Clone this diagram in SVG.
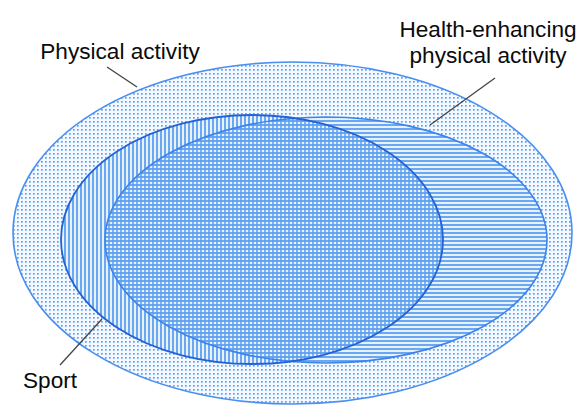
<svg xmlns="http://www.w3.org/2000/svg" width="583" height="408" viewBox="0 0 583 408">
<style>
.lbl{font-family:"Liberation Sans",Arial,sans-serif;font-size:22.6px;fill:#0a0a0a}
.lead{stroke:#444;stroke-width:1.3;fill:none}
</style>
<defs>
<pattern id="dots" width="4" height="4" patternUnits="userSpaceOnUse">
<rect width="4" height="4" fill="#f4f8ff"/>
<rect x="1" y="1" width="1.7" height="1.7" fill="#5c9ff4"/>
</pattern>
<pattern id="vert" width="4" height="4" patternUnits="userSpaceOnUse">
<rect width="4" height="4" fill="#e8f2fe"/>
<rect x="0" y="0" width="2" height="4" fill="#6aa8f2"/>
</pattern>
<pattern id="horz" width="4" height="4" patternUnits="userSpaceOnUse">
<rect width="4" height="4" fill="#e8f2fe"/>
<rect x="0" y="0" width="4" height="2" fill="#6aa8f2"/>
</pattern>
<pattern id="vertT" width="4" height="4" patternUnits="userSpaceOnUse">
<rect x="0" y="0" width="2" height="4" fill="#5b9ef0" fill-opacity="0.75"/>
</pattern>
<clipPath id="hepaClip"><ellipse cx="326" cy="240" rx="221" ry="123"/></clipPath>
</defs>
<g id="physical-activity">
<ellipse cx="292.5" cy="233" rx="279.5" ry="171" fill="url(#dots)" stroke="#4a8ff0" stroke-width="1.6"/>
</g>
<g id="sport">
<ellipse cx="252" cy="239.5" rx="191" ry="124.5" fill="url(#vert)"/>
</g>
<g id="hepa">
<ellipse cx="326" cy="240" rx="221" ry="123" fill="url(#horz)"/>
<ellipse cx="252" cy="239.5" rx="191" ry="124.5" fill="url(#vertT)" clip-path="url(#hepaClip)"/>
<ellipse cx="326" cy="240" rx="221" ry="123" fill="none" stroke="#3c84ec" stroke-width="1.6"/>
</g>
<g id="sport-outline">
<ellipse cx="252" cy="239.5" rx="191" ry="124.5" fill="none" stroke="#2462d2" stroke-width="1.8"/>
</g>
<g id="connectors">
<line class="lead" x1="107" y1="67" x2="137" y2="87"/>
<line class="lead" x1="495" y1="78" x2="430" y2="125"/>
<line class="lead" x1="60" y1="365" x2="102" y2="319"/>
</g>
<g id="labels">
<text class="lbl" x="120" y="59" text-anchor="middle">Physical activity</text>
<text class="lbl" x="488" y="37" text-anchor="middle">Health-enhancing</text>
<text class="lbl" x="488" y="63" text-anchor="middle">physical activity</text>
<text class="lbl" x="23" y="388">Sport</text>
</g>
</svg>
